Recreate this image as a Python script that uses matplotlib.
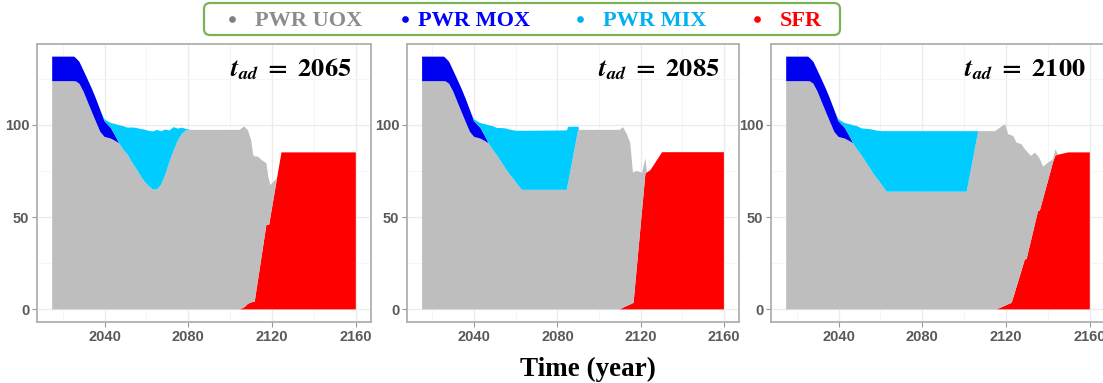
import numpy as np
import matplotlib
matplotlib.use("Agg")
import matplotlib.pyplot as plt
from matplotlib.lines import Line2D
from matplotlib.patches import FancyBboxPatch

plt.rcParams['mathtext.fontset'] = 'stix'

# ---------------- data ----------------
fuel_names = ["PWR UOX", "PWR MOX", "PWR MIX", "SFR"]
panel_titles = ["2065", "2085", "2100"]

# common history 2015-2047 (identical in all scenarios)
years_early = [2015, 2025.5, 2026.5, 2028, 2030, 2032, 2034, 2036, 2038, 2040, 2043, 2045, 2047]
sfr_early = [0, 0, 0, 0, 0, 0, 0, 0, 0, 0, 0, 0, 0]
uox_early = [123.7, 123.7, 123.5, 122.3, 118.0, 112.4, 106.9, 101.5, 96.2, 93.5, 92.6, 91.4, 90.0]
mox_early = [13.3, 13.3, 12.5, 11.9, 11.4, 12.1, 12.6, 12.5, 11.8, 8.5, 5.8, 3.0, 0.0]
mix_early = [0, 0, 0, 0, 0, 0, 0, 0, 0, 1.0, 2.6, 6.1, 9.8]

# t_ad = 2065
years_2065 = [2049, 2051, 2053, 2055, 2057, 2059, 2061, 2063, 2065, 2067, 2069, 2071, 2073, 2075,
              2077, 2079, 2081, 2104.5, 2106.6, 2108.5, 2110, 2111, 2111.7, 2113.3, 2115, 2117.3,
              2118.1, 2118.6, 2119.2, 2122.4, 2124.5, 2160]
sfr_2065 = [0, 0, 0, 0, 0, 0, 0, 0, 0, 0, 0, 0, 0, 0, 0, 0, 0, 0, 1.0, 3.0, 3.8, 4.0, 4.0, 16.0,
            28.6, 45.8, 45.8, 45.8, 49.8, 71.2, 85.1, 85.1]
uox_2065 = [86.5, 83.9, 80.0, 76.5, 72.8, 69.4, 67.0, 65.0, 65.0, 67.5, 73.0, 80.0, 86.0, 91.5,
            95.3, 97.0, 97.3, 97.3, 98.2, 94.0, 88.0, 79.7, 78.9, 66.8, 52.4, 33.4, 27.0, 24.2,
            17.6, 0, 0, 0]
mox_2065 = [0] * 32
mix_2065 = [12.8, 14.6, 18.6, 21.9, 25.0, 28.1, 29.8, 31.4, 32.3, 29.0, 24.5, 17.0, 12.8, 6.5,
            3.2, 0.8, 0, 0, 0, 0, 0, 0, 0, 0, 0, 0, 0, 0, 0, 0, 0, 0]

# t_ad = 2085
years_2085 = [2049, 2051, 2053, 2055, 2057, 2059, 2061, 2063, 2084.5, 2085.3, 2090.1, 2090.5,
              2110, 2111.5, 2113.4, 2115, 2116.3, 2116.6, 2118.2, 2120.7, 2122.3, 2123, 2124.7,
              2130.3, 2160]
sfr_2085 = [0, 0, 0, 0, 0, 0, 0, 0, 0, 0, 0, 0, 0, 0.9, 1.9, 2.7, 3.4, 3.6, 23.3, 54.0, 73.7,
            74.2, 75.5, 85.2, 85.2]
uox_2085 = [86.5, 83.5, 80.0, 76.5, 73.3, 70.5, 67.6, 64.8, 64.8, 69.5, 98.0, 97.3, 97.3, 97.9,
            93.0, 87.7, 70.7, 70.8, 51.7, 20.1, 8.2, 0, 0, 0, 0]
mox_2085 = [0] * 25
mix_2085 = [12.8, 14.8, 18.3, 21.6, 24.2, 26.5, 29.2, 32.0, 32.2, 29.5, 1.0, 0, 0, 0, 0, 0, 0,
            0, 0, 0, 0, 0, 0, 0, 0]

# t_ad = 2100
years_2100 = [2049, 2051, 2053, 2055, 2057, 2059, 2061, 2063, 2101.2, 2106.7, 2114.6, 2115.5,
              2119.5, 2121, 2122.7, 2123.4, 2125, 2127.4, 2129, 2129.8, 2131.9, 2133.8, 2135.3,
              2136.1, 2137.7, 2140.1, 2142.5, 2143.6, 2144.8, 2145.5, 2149.7, 2160]
sfr_2100 = [0, 0, 0, 0, 0, 0, 0, 0, 0, 0, 0, 0, 2.0, 2.75, 3.6, 6.2, 12.2, 21.1, 27.2, 27.2,
            37.2, 46.3, 53.4, 53.4, 60.0, 70.0, 80.0, 83.4, 83.8, 84.0, 85.1, 85.1]
uox_2100 = [86.5, 83.5, 80.0, 76.5, 73.0, 70.0, 67.0, 63.8, 63.8, 96.6, 96.6, 97.3, 98.4, 92.3,
            90.7, 87.8, 78.2, 68.4, 59.6, 58.6, 46.0, 38.7, 29.6, 28.2, 17.4, 9.6, 1.4, 3.4, 0.2,
            0, 0, 0]
mox_2100 = [0] * 32
mix_2100 = [12.8, 14.6, 17.9, 21.2, 24.2, 26.8, 29.6, 32.8, 32.8, 0, 0, 0, 0, 0, 0, 0, 0, 0, 0,
            0, 0, 0, 0, 0, 0, 0, 0, 0, 0, 0, 0, 0]

x_major = [2040, 2080, 2120, 2160]
x_minor = [2020, 2060, 2100, 2140]
y_major = [0, 50, 100]
y_minor = [25, 75, 125]

# ---------------- style ----------------
C_UOX = "#bebebe"
C_MOX = "#0000f0"
C_MIX = "#00ccff"
C_SFR = "#ff0000"
legend_text_colors = ["#8c8c8c", "#0000ff", "#00b0f0", "#ff0000"]
legend_dot_colors = ["#7f7f7f", "#0000ff", "#00b0f0", "#ff0000"]

W, H = 1103, 383
fig = plt.figure(figsize=(W / 100, H / 100), dpi=100)

panels = [
    (years_2065, sfr_2065, uox_2065, mox_2065, mix_2065),
    (years_2085, sfr_2085, uox_2085, mox_2085, mix_2085),
    (years_2100, sfr_2100, uox_2100, mox_2100, mix_2100),
]
ax_px = [(37, 334), (407, 332), (771, 334)]
top_px, bot_px = 44, 322

tick_font = ['Liberation Sans Narrow', 'Liberation Sans', 'DejaVu Sans']

for (yrs, sfr, uox, mox, mix), (left, width), title in zip(panels, ax_px, panel_titles):
    ax = fig.add_axes([left / W, (H - bot_px) / H, width / W, (bot_px - top_px) / H])
    x = np.array(years_early + yrs)
    s_sfr = np.array(sfr_early + sfr)
    s_uox = np.array(uox_early + uox)
    s_mox = np.array(mox_early + mox)
    s_mix = np.array(mix_early + mix)
    polys = ax.stackplot(x, s_sfr, s_uox, s_mox, s_mix,
                         colors=[C_SFR, C_UOX, C_MOX, C_MIX], linewidth=0)
    for p in polys:
        p.set_edgecolor('none')
        p.set_linewidth(0)
    ax.set_xlim(2007.75, 2167.25)
    ax.set_ylim(-6.85, 143.85)
    ax.set_xticks(x_major)
    ax.set_xticks(x_minor, minor=True)
    ax.set_yticks(y_major)
    ax.set_yticks(y_minor, minor=True)
    ax.grid(True, which='major', color='#ebebeb', lw=0.9)
    ax.grid(True, which='minor', color='#f4f4f4', lw=0.6)
    ax.set_axisbelow(True)
    for sp in ax.spines.values():
        sp.set_color('#b0b0b0')
        sp.set_linewidth(1.3)
    ax.tick_params(which='major', length=3.5, width=0.8, color='#999999',
                   labelcolor='#595959', pad=2)
    ax.tick_params(which='minor', length=0)
    for lab in ax.get_xticklabels() + ax.get_yticklabels():
        lab.set_fontfamily(tick_font)
        lab.set_fontweight('bold')
        lab.set_fontsize(10.5)
    ax.text(1 - 19 / width, (bot_px - 76) / (bot_px - top_px),
            r"$\mathbfit{t}_{\mathbfit{ad}}\ \mathbf{=}\ \mathbf{" + title + "}$",
            transform=ax.transAxes, ha='right', va='baseline', fontsize=19, color='black')

# ---------------- legend ----------------
box_l, box_r, box_t, box_b = 204, 840, 3, 35
box = FancyBboxPatch((box_l / W, 1 - box_b / H), (box_r - box_l) / W, (box_b - box_t) / H,
                     boxstyle="round,pad=0,rounding_size=0.0055", mutation_aspect=W / H,
                     transform=fig.transFigure, facecolor='white', edgecolor='#79b355',
                     linewidth=1.6, zorder=5)
fig.add_artist(box)
dot_x = [231.7, 405, 580, 756.7]
txt_x = [255, 418, 603, 780]
for name, dx, tx, tc, dc in zip(fuel_names, dot_x, txt_x, legend_text_colors, legend_dot_colors):
    fig.add_artist(Line2D([dx / W], [1 - 19.3 / H], marker='o', markersize=3.8, color=dc,
                          linestyle='none', transform=fig.transFigure, zorder=6))
    fig.text(tx / W, 1 - 26.5 / H, name, ha='left', va='baseline', color=tc,
             fontfamily='Liberation Serif', fontweight='bold', fontsize=16, zorder=6)

fig.text(588 / W, 1 - 376 / H, "Time (year)", ha='center', va='baseline',
         fontfamily='Liberation Serif', fontweight='bold', fontsize=19.5, color='black')

fig.savefig("out.png", dpi=100)
